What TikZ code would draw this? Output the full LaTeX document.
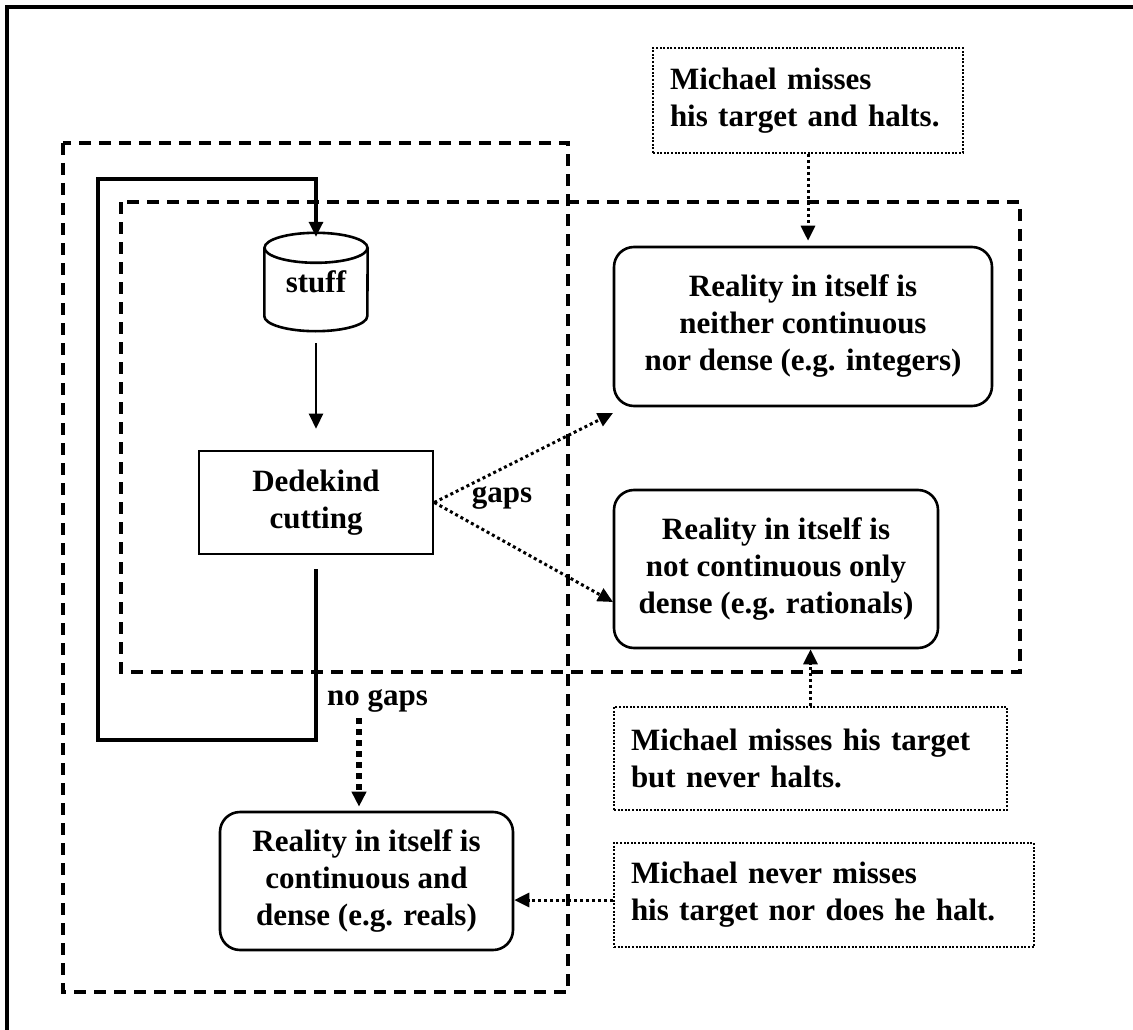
\documentclass[tikz,border=0pt]{standalone}
\usepackage{fontspec}
\setmainfont{Liberation Serif}
\usetikzlibrary{arrows.meta,calc}
\begin{document}
\begin{tikzpicture}[x=1pt,y=-1pt,
  every node/.style={font=\fontsize{31}{37}\selectfont\bfseries},
  solidbox/.style={draw, line width=2.6pt, align=center, inner sep=0pt},
  realbox/.style={solidbox, rounded corners=20pt},
  notebox/.style={draw, line width=2pt, dash pattern=on 2pt off 1.6pt, align=left, inner xsep=17pt, inner ysep=0pt},
  dashframe/.style={line width=3.2pt, dash pattern=on 12pt off 8pt},
  loopline/.style={line width=3.2pt},
  arr/.style={-{Triangle[length=15pt,width=14pt]}},
  dotarrow/.style={arr, line width=3pt, dash pattern=on 3pt off 3pt},
  thickdot/.style={arr, line width=6pt, dash pattern=on 6pt off 5pt},
  lbl/.style={inner sep=0pt}
]
\useasboundingbox (0,0) rectangle (1133,1030);
% outer frame (partly cropped)
\draw[line width=3.5pt] (7,1040) -- (7,7) -- (1140,7);
% dashed frames
\draw[dashframe] (63,143) rectangle (568,992);
\draw[dashframe] (121,202) rectangle (1020,672);
% note boxes
\node[notebox, text width=276pt, minimum height=105pt] (d1) at (808,100.5) {\mbox{Michael misses}\\\mbox{his target and halts.}};
\node[notebox, text width=359pt, minimum height=103pt] (d2) at (810.5,758.5) {\mbox{Michael misses his target}\\\mbox{but never halts.}};
\node[notebox, text width=386pt, minimum height=104pt] (d3) at (824,895) {\mbox{Michael never misses}\\\mbox{his target nor does he halt.}};
% reality boxes
\node[realbox, minimum width=378pt, minimum height=159pt] (r1) at (803,326.5) {Reality in itself is\\neither continuous\\nor dense (e.g. integers)};
\node[realbox, minimum width=324pt, minimum height=158pt] (r2) at (776,569) {Reality in itself is\\not continuous only\\dense (e.g. rationals)};
\node[realbox, minimum width=293pt, minimum height=138pt] (r3) at (366.5,881) {Reality in itself is\\continuous and\\dense (e.g. reals)};
% Dedekind
\node[solidbox, minimum width=234pt, minimum height=103pt] (ded) at (316,502.5) {Dedekind\\cutting};
% stuff cylinder
\node[inner sep=0pt, minimum width=103pt, minimum height=98pt] (stuff) at (316,282) {stuff};
\draw[line width=2.6pt] ([yshift=-15pt]stuff.north west) -- ([yshift=15pt]stuff.south west)
  arc[start angle=180, end angle=360, x radius=51.5pt, y radius=15pt]
  -- ([yshift=-15pt]stuff.north east);
\draw[line width=2.6pt] ([yshift=-15pt]stuff.north) ellipse[x radius=51.5pt, y radius=15pt];
% loop
\coordinate (lp) at (316,569);
\draw[loopline, arr] (lp) -- (316,740) -- (98,740) -- (98,179) -- (316,179) -- ([yshift=-4pt]stuff.north);
% stuff -> Dedekind
\draw[arr, line width=2.6pt] ([yshift=-12pt]stuff.south) -- ([yshift=21pt]ded.north);
% gaps
\coordinate (g1) at (613,413);
\coordinate (g2) at (613,602);
\draw[dotarrow] (ded.east) -- (g1);
\draw[dotarrow] (ded.east) -- (g2);
\node[lbl, anchor=base] (gaps) at (502,502) {gaps};
% no gaps
\node[lbl, anchor=base west] (nogaps) at (327,705) {no gaps};
\coordinate (ng) at (359,718);
\draw[thickdot] (ng) -- ([yshift=4pt]ng |- r3.north);
% notes -> reality
\draw[dotarrow] (d1.south) -- ([yshift=5pt]d1.south |- r1.north);
\draw[dotarrow] (d2.north) -- (d2.north |- r2.south);
\draw[dotarrow] ([yshift=-5pt]d3.west) -- ([yshift=-5pt]d3.west -| r3.east);
\end{tikzpicture}
\end{document}
